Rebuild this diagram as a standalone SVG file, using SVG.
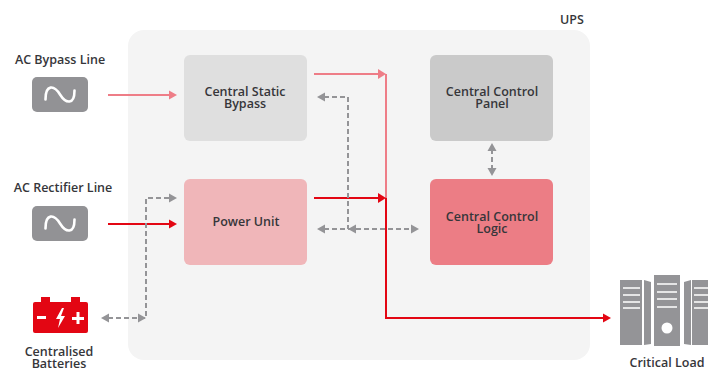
<svg xmlns="http://www.w3.org/2000/svg" width="708" height="369" viewBox="0 0 708 369">
<style>
text{font-family:"Open Sans","Noto Sans",sans-serif;font-size:12.5px;font-weight:600;fill:#36363a;text-anchor:middle}
.d{fill:none;stroke:#949497;stroke-width:2;stroke-dasharray:5 3}
.p{fill:none;stroke:#ee7d87;stroke-width:2}
.r{fill:none;stroke:#e30613;stroke-width:2}
.ag{fill:#949497}.ap{fill:#ee7d87}.ar{fill:#e30613}
.box{fill:#929295}
.w{fill:none;stroke:#fff;stroke-width:2.6;stroke-linecap:round}
.srv{fill:#949497}
.ln{stroke:#fff;stroke-width:1.6;fill:none}
</style>
<rect id="ups-bg" x="128" y="30" width="462" height="330" rx="16" fill="#f4f4f4"/>
<g id="ups-label"><text x="572" y="24">UPS</text></g>
<g id="bypass-node"><rect x="184" y="55" width="123" height="86" rx="6" fill="#dfdfdf"/><text x="245" y="96">Central Static</text><text x="245" y="108">Bypass</text></g>
<g id="panel-node"><rect x="430" y="55" width="123" height="86" rx="6" fill="#cacaca"/><text x="492" y="96">Central Control</text><text x="492" y="108">Panel</text></g>
<g id="power-node"><rect x="184" y="179" width="123" height="86" rx="6" fill="#f0b6b9"/><text x="246" y="226">Power Unit</text></g>
<g id="logic-node"><rect x="430" y="179" width="123" height="86" rx="6" fill="#ec7d85"/><text x="492" y="221">Central Control</text><text x="492" y="233">Logic</text></g>
<g id="ac-bypass"><text x="60" y="64">AC Bypass Line</text><rect class="box" x="32" y="77" width="56" height="35" rx="5"/><path class="w" d="M45.500 99.500C45.500 84 54 85 60 94.500C66 104 74.500 105 74.500 90.500"/></g>
<g id="ac-rectifier"><text x="63" y="192">AC Rectifier Line</text><rect class="box" x="32" y="206" width="56" height="35" rx="5"/><path class="w" d="M45.500 228.500C45.500 213 54 214 60 223.500C66 233 74.500 234 74.500 219.500"/></g>
<g id="batteries"><rect x="41" y="297" width="9" height="5" fill="#e30613"/><rect x="71" y="297" width="9" height="5" fill="#e30613"/><rect x="33" y="302" width="55" height="31" rx="2" fill="#e30613"/>
<path d="M37 316h9v3h-9zM72 317h12v3h-12zM76.500 312h3v12h-3z" fill="#fff"/><path d="M62 308L56 319H60L58 328L65 316H61L64 308Z" fill="#fff"/>
<text x="59" y="356">Centralised</text><text x="59" y="367.500">Batteries</text></g>
<g id="critical-load">
<path class="srv" d="M620 280H642V345H620ZM644 280L651 282V344L644 345ZM654 275H680V346H654ZM684 282L691 280V345L684 344ZM692 280H708V345H692Z"/>
<path class="ln" d="M623 288H640M623 295H640M623 302H640M623 308H640M657 284H677M657 292H677M657 299H677M657 307H677M694 288H708M694 295H708M694 302H708M694 308H708"/>
<circle cx="667" cy="328" r="5.500" fill="#fff"/>
<text x="667" y="367">Critical Load</text></g>
<g id="connectors">
<path class="p" d="M108 95H170"/><path class="ap" d="M169 90.500L177 95L169 99.500Z"/>
<path class="r" d="M108 224H170"/><path class="ar" d="M169 219.500L177 224L169 228.500Z"/>
<path class="p" d="M314 74H378M386 74V198"/><path class="ap" d="M378 69L386 74L378 79Z"/>
<path class="r" d="M314 198H378M386 198V318H604"/><path class="ar" d="M378 193L386 198L378 203Z"/><path class="ar" d="M603 313.500L611 318L603 322.500Z"/>
<path class="d" d="M324 97H348V229"/><path class="ag" d="M325 92.500L317 97L325 101.500Z"/>
<path class="d" d="M324 229H412"/><path class="ag" d="M325 224.500L317 229L325 233.500ZM356 224.500L348 229L356 233.500ZM411 224.500L419 229L411 233.500Z"/>
<path class="d" d="M108 318H146V198H170"/><path class="ag" d="M109 313.500L101 318L109 322.500ZM138 313.500L146 318L138 322.500ZM169 193.500L177 198L169 202.500Z"/>
<path class="d" d="M492 149V170"/><path class="ag" d="M487.500 151L492 143L496.500 151ZM487.500 168L492 176L496.500 168Z"/>
</g>
</svg>
